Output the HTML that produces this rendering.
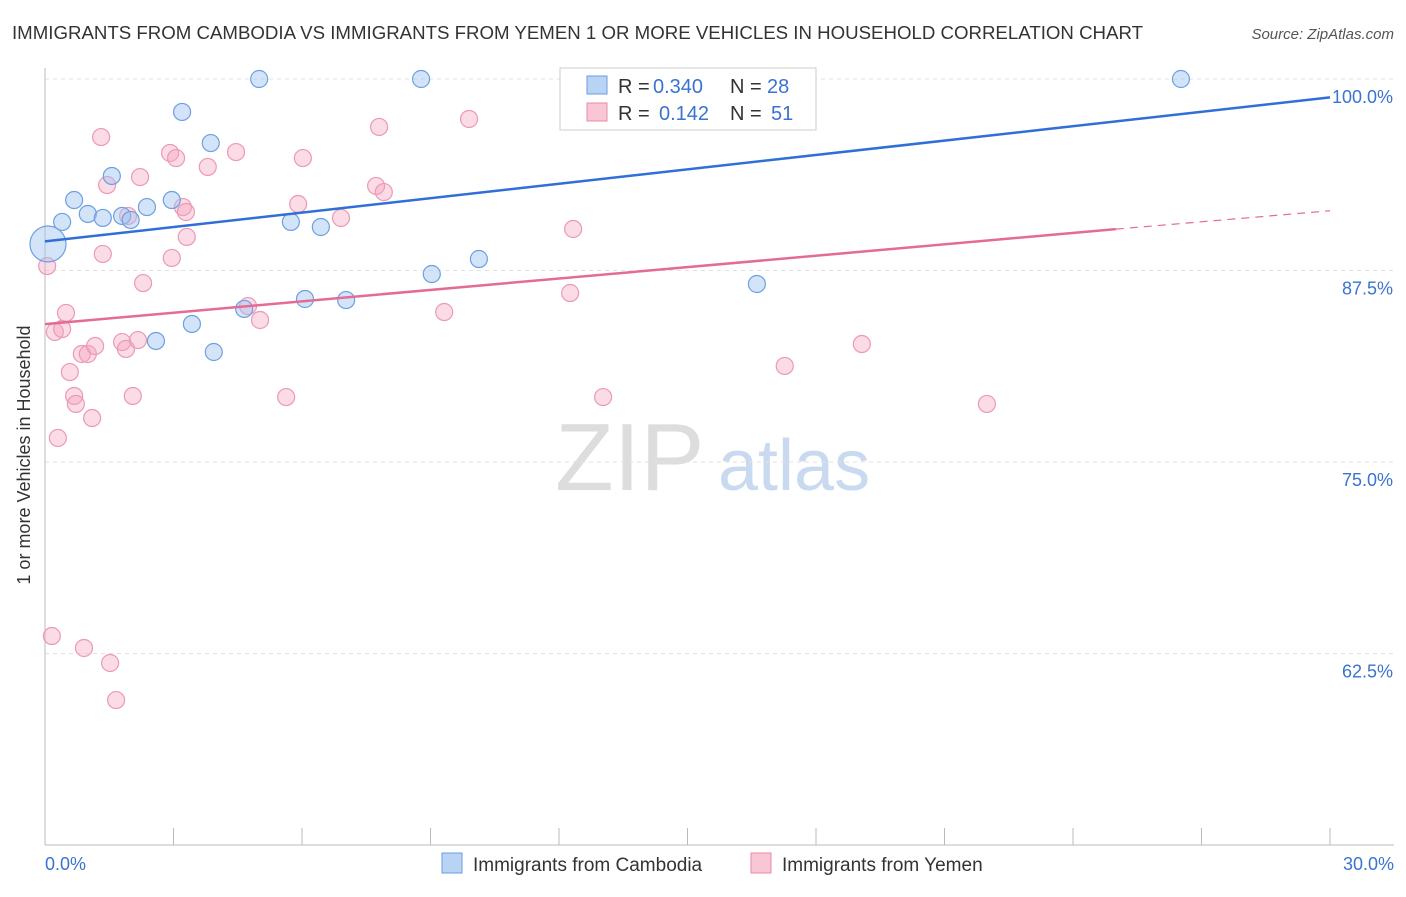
<!DOCTYPE html>
<html><head><meta charset="utf-8"><style>
body{margin:0;background:#fff;font-family:"Liberation Sans",sans-serif}
svg text{font-family:"Liberation Sans",sans-serif}
</style></head><body>
<svg id="c" width="1406" height="892" xmlns="http://www.w3.org/2000/svg">
<text x="12" y="39" font-size="18" fill="#333" textLength="1131" lengthAdjust="spacingAndGlyphs">IMMIGRANTS FROM CAMBODIA VS IMMIGRANTS FROM YEMEN 1 OR MORE VEHICLES IN HOUSEHOLD CORRELATION CHART</text>
<text x="1394" y="39" font-size="15" fill="#555" font-style="italic" text-anchor="end">Source: ZipAtlas.com</text>
<text x="30" y="455" font-size="18" fill="#333" text-anchor="middle" transform="rotate(-90 30 455)">1 or more Vehicles in Household</text>
<text x="555" y="490" font-size="96" fill="#ddd" font-family="Liberation Serif">ZIP</text>
<text x="718" y="490" font-size="72" fill="#c9daf0">atlas</text>
<g id="grid"></g><g id="pts"></g><g id="trend"></g>
<g>
<rect x="560" y="68" width="256" height="62" fill="#fff" stroke="#ccc"/>
<rect x="587" y="76" width="20" height="18" fill="#b9d3f5" stroke="#6a9be0"/>
<text x="618" y="93" font-size="20" fill="#333">R =</text>
<text x="653" y="93" font-size="20" fill="#3a73d0">0.340</text>
<text x="730" y="93" font-size="20" fill="#333">N =</text>
<text x="767" y="93" font-size="20" fill="#3a73d0">28</text>
<rect x="587" y="103" width="20" height="18" fill="#f8c6d5" stroke="#e88aa8"/>
<text x="618" y="120" font-size="20" fill="#333">R =</text>
<text x="659" y="120" font-size="20" fill="#3a73d0">0.142</text>
<text x="730" y="120" font-size="20" fill="#333">N =</text>
<text x="771" y="120" font-size="20" fill="#3a73d0">51</text>
</g>
<g>
<rect x="442" y="853" width="20" height="20" fill="#b9d3f5" stroke="#6a9be0"/>
<text x="473" y="871" font-size="19" fill="#333">Immigrants from Cambodia</text>
<rect x="751" y="853" width="20" height="20" fill="#f8c6d5" stroke="#e88aa8"/>
<text x="782" y="871" font-size="19" fill="#333">Immigrants from Yemen</text>
</g>
</svg>
<script>
const yTicks=[100,87.5,75,62.5];
const xTickLabels=["0.0%","30.0%"];
const blueX=[0.07,0.4,0.68,1.0,1.35,1.56,1.8,2.0,2.38,2.59,2.96,3.2,3.43,3.87,3.94,4.65,5.0,5.74,6.07,6.44,7.03,8.78,9.03,10.13,15.01,16.62,26.52,12.89];
const blueY=[89.23,90.67,92.10,91.19,90.93,93.67,91.06,90.80,91.64,82.90,92.10,97.85,84.01,95.82,82.18,84.99,100,90.67,85.64,90.34,85.57,100,87.27,88.25,100,86.62,100,99.8];
const pinkX=[0.05,0.16,0.23,0.3,0.4,0.49,0.58,0.68,0.72,0.86,0.91,1.0,1.1,1.17,1.31,1.35,1.45,1.52,1.66,1.8,1.89,1.94,2.05,2.17,2.22,2.29,2.92,2.96,3.06,3.22,3.29,3.31,3.8,4.46,4.74,5.02,5.63,5.91,6.02,6.91,7.73,7.8,7.91,9.32,9.9,12.26,12.33,13.03,17.27,19.07,21.99];
const pinkY=[87.79,63.64,83.49,76.57,83.68,84.73,80.87,79.31,78.79,82.05,62.86,82.05,77.87,82.57,96.21,88.58,93.08,61.88,59.46,82.83,82.38,91.06,79.31,82.96,93.60,86.68,95.17,88.32,94.84,91.64,91.32,89.69,94.26,95.23,85.18,84.27,79.24,91.84,94.84,90.93,93.02,96.87,92.62,84.79,97.39,86.03,90.21,79.24,81.27,82.70,78.79];
const blueTrend=[0,89.4,30,98.8];
const pinkTrend=[0,84.0,25,90.2,30,91.4];
const NS="http://www.w3.org/2000/svg";
const X=v=>45+v/30*1285, Y=v=>79+(100-v)/12.5*191.5;
function mk(tag,attrs,parent){const e=document.createElementNS(NS,tag);for(const k in attrs)e.setAttribute(k,attrs[k]);parent.appendChild(e);return e;}
const grid=document.getElementById('grid');
yTicks.forEach(t=>{
 const l=mk('line',{x1:45,x2:1394,y1:Y(t),y2:Y(t),stroke:'#e2e2e2','stroke-dasharray':'4,4'},grid);
 
 
 const tx=mk('text',{x:1393,y:Y(t)+24,'font-size':18,fill:'#3a73d0','text-anchor':'end'},grid);
 tx.textContent=t.toFixed(1)+'%';
 
 
});
const ax=mk('line',{x1:45,x2:45,y1:68,y2:845,stroke:'#bbb'},grid);


const bx=mk('line',{x1:45,x2:1394,y1:845,y2:845,stroke:'#bbb'},grid);


for(let i=0;i<=10;i++){const t=mk('line',{x1:X(i*3),x2:X(i*3),y1:828,y2:845,stroke:'#bbb'},grid);
 
 }
[[0,'start',45],[30,'end',1394]].forEach((d,i)=>{const t=mk('text',{x:d[2],y:870,'font-size':18,fill:'#3a73d0','text-anchor':d[1]},grid);t.textContent=xTickLabels[i];
 
 });
const pts=document.getElementById('pts');
pinkX.forEach((x,i)=>{const c=mk('circle',{cx:X(x),cy:Y(pinkY[i]),r:8.5,fill:'rgba(244,165,190,0.4)',stroke:'#eb9ab4','stroke-width':1.2},pts);
 
 });
blueX.forEach((x,i)=>{const c=mk('circle',{cx:X(x),cy:Y(blueY[i]),r:i==0?18:8.5,fill:'rgba(160,195,240,0.45)',stroke:'#6d9fe2','stroke-width':1.2},pts);
 
 });
const tr=document.getElementById('trend');
let l=mk('line',{x1:X(blueTrend[0]),y1:Y(blueTrend[1]),x2:X(blueTrend[2]),y2:Y(blueTrend[3]),stroke:'#2f6fd6','stroke-width':2.5},tr);


l=mk('line',{x1:X(pinkTrend[0]),y1:Y(pinkTrend[1]),x2:X(pinkTrend[2]),y2:Y(pinkTrend[3]),stroke:'#e46b95','stroke-width':2.5},tr);


l=mk('line',{x1:X(pinkTrend[2]),y1:Y(pinkTrend[3]),x2:X(pinkTrend[4]),y2:Y(pinkTrend[5]),stroke:'#e46b95','stroke-width':1.2,'stroke-dasharray':'8,6'},tr);


</script>
</body></html>
